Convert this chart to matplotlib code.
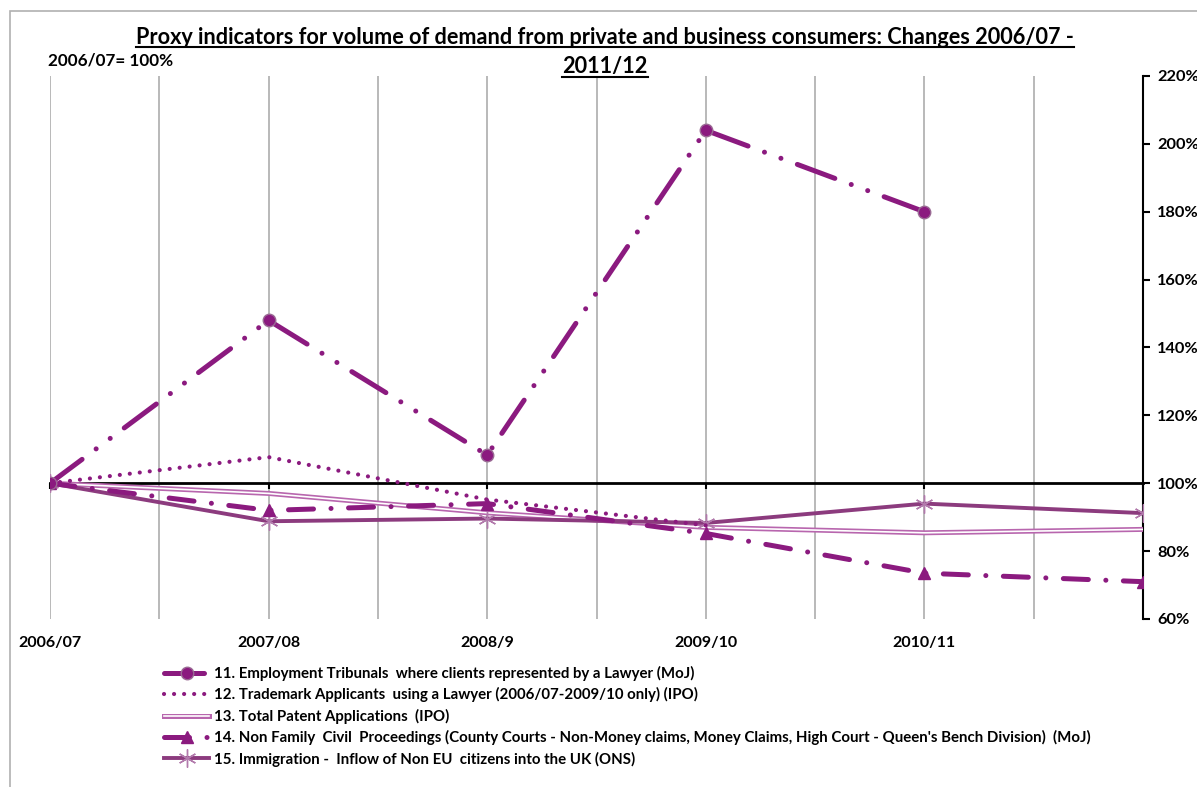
import numpy as np
import matplotlib
matplotlib.use('Agg')
import matplotlib.pyplot as plt
import matplotlib.patheffects as pe
from matplotlib.lines import Line2D
from matplotlib.patches import Rectangle
from matplotlib.ticker import FuncFormatter

plt.rcParams['font.family'] = ['Lato', 'DejaVu Sans']
plt.rcParams['font.weight'] = 'bold'

# 資料
years = ['2006/07', '2007/08', '2008/9', '2009/10', '2010/11', '']
employment = [100, 148, 108.3, 204, 180]
trademark = [100, 107.7, 95.2, 87.6]
patents = [100, 97.0, 91.3, 87.0, 85.4, 86.4]
civil = [100, 92.0, 94.0, 85.2, 73.5, 71.0]
immigration = [100, 88.8, 89.6, 88.3, 94.0, 91.2]

names = [
    '11. Employment Tribunals  where clients represented by a Lawyer (MoJ)',
    '12. Trademark Applicants  using a Lawyer (2006/07-2009/10 only) (IPO)',
    '13. Total Patent Applications  (IPO)',
    '14. Non Family  Civil  Proceedings (County Courts - Non-Money claims, Money Claims, High Court - Queen\'s Bench Division)  (MoJ)',
    '15. Immigration -  Inflow of Non EU  citizens into the UK (ONS)',
]

purple = '#8B1A7F'
pale = '#B866AE'
plum = '#8C3B7E'

fig = plt.figure(figsize=(11.97, 7.87), dpi=100)
ax = fig.add_axes([50/1197, 1-619/787, (1143-50)/1197, (619-76)/787])

x = np.arange(len(years))

ax.plot(x[:len(employment)], employment, color=purple, lw=3.6,
        dashes=(8, 3.5, 0.01, 3.5, 0.01, 3.5), dash_capstyle='round',
        marker='o', ms=9, mfc=purple, mec='#9a6a94', label=names[0], zorder=5)
ax.plot(x[:len(trademark)], trademark, color=purple, lw=3,
        dashes=(0.01, 2.4), dash_capstyle='round', label=names[1], zorder=4)
ax.plot(x, patents, color='white', lw=1.2, label=names[2], zorder=3,
        path_effects=[pe.Stroke(linewidth=3.6, foreground=pale), pe.Normal()])
ax.plot(x, civil, color=purple, lw=3.6, dashes=(5, 3.5, 0.01, 3.5),
        dash_capstyle='round', marker='^', ms=9, mfc=purple, mec=purple,
        label=names[3], zorder=4)
ax.plot(x, immigration, color=plum, lw=2.8, marker=(6, 2, 0), ms=13,
        mec='#B27AAC', mew=1.0, label=names[4], zorder=3)

ax.set_xlim(0, 5)
ax.set_ylim(60, 220)

# 格線
ax.set_xticks(x)
ax.set_xticks(np.arange(0.5, 5, 0.5), minor=True)
ax.grid(axis='x', which='both', color='#a6a6a6', lw=1.1, zorder=0)
ax.set_axisbelow(True)

for s in ['top', 'left']:
    ax.spines[s].set_visible(False)
ax.spines['bottom'].set_position(('data', 100))
ax.spines['bottom'].set_linewidth(2)
ax.spines['bottom'].set_zorder(2.5)
ax.spines['right'].set_linewidth(1.5)
ax.tick_params(axis='x', which='major', direction='out', length=4, width=1.5,
               labelbottom=False)
ax.tick_params(axis='x', which='minor', length=0)

for i, lab in enumerate(years):
    ax.text(i, -0.044, lab, transform=ax.get_xaxis_transform(), ha='center',
            va='center', fontsize=11.5, fontweight='bold')

ax.yaxis.tick_right()
ax.set_yticks(np.arange(60, 221, 20))
ax.yaxis.set_major_formatter(FuncFormatter(lambda v, p: f'{v:.0f}%'))
ax.tick_params(axis='y', direction='out', length=5, width=1.5, labelsize=11.8, pad=5)

# 標題
t1 = fig.text(605/1197, 1-37/787,
              'Proxy indicators for volume of demand from private and business consumers: Changes 2006/07 -',
              ha='center', va='center', fontsize=15.6, fontweight='bold')
t2 = fig.text(605/1197, 1-67/787, '2011/12', ha='center', va='center',
              fontsize=15.6, fontweight='bold')
fig.text(48/1197, 1-60/787, '2006/07= 100%', ha='left', va='center',
         fontsize=12.3, fontweight='bold')

fig.patches.append(Rectangle((10/1197, -0.02), 1.1, 1-11/787+0.02,
                             transform=fig.transFigure, fill=False,
                             ec='#b0b0b0', lw=1.2))

ax.legend(loc='upper left', bbox_to_anchor=(158/1197, 1-660/787),
          bbox_transform=fig.transFigure, frameon=False, fontsize=10.8,
          handlelength=3.0, handletextpad=0.35, labelspacing=0.42,
          borderaxespad=0)

fig.canvas.draw()
r = fig.canvas.get_renderer()
for t in (t1, t2):
    bb = t.get_window_extent(r)
    y = bb.y0 + 1
    fig.add_artist(Line2D([bb.x0/1197, bb.x1/1197], [y/787, y/787],
                          transform=fig.transFigure, color='black', lw=1.5))

fig.savefig('out.png', dpi=100)
